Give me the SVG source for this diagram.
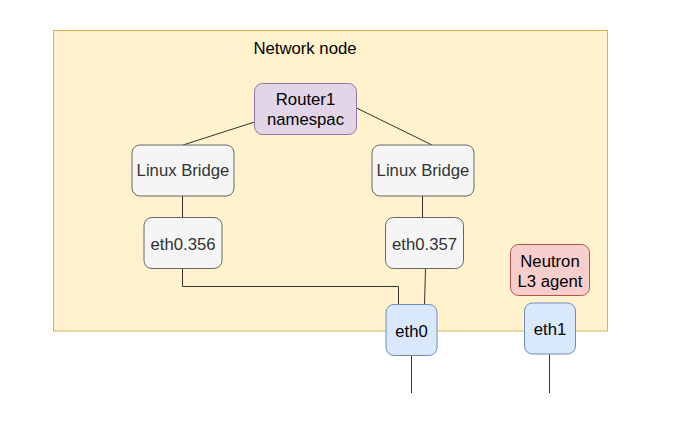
<svg xmlns="http://www.w3.org/2000/svg" width="679" height="423" viewBox="0 0 679 423">
<style>
text{font-family:"Liberation Sans",Arial,sans-serif;font-size:16.7px;text-anchor:middle}
.g rect{fill:#f5f5f5;stroke:#666666}
.g text{fill:#333333}
.b rect{fill:#dae8fc;stroke:#6c8ebf}
.p rect{fill:#e1d5e7;stroke:#9673a6}
.r rect{fill:#f8cecc;stroke:#b85450}
.c path{fill:none;stroke:#333333;stroke-width:1}
</style>
<rect width="679" height="423" fill="#ffffff"/>
<g id="network-node">
<rect x="53.5" y="30.5" width="554" height="300.5" fill="#fff2cc" stroke="#d6b656"/>
<text x="305" y="54">Network node</text>
</g>
<g class="c" id="connectors">
<path d="M254.5 122 L183 145"/>
<path d="M356.5 108 L432 145"/>
<path d="M182.5 196 V217"/>
<path d="M422.5 196 V217"/>
<path d="M182.5 268 V286.5 H398.5 V304"/>
<path d="M425.5 268 L424.5 304"/>
<path d="M411.5 355 V393"/>
<path d="M549.5 354 V393" stroke="#555555"/>
</g>
<g id="router1" class="p">
<rect x="254.5" y="83.5" width="102" height="51" rx="8"/>
<text x="305.5" y="105">Router1</text>
<text x="305.5" y="124.5">namespac</text>
</g>
<g id="bridge-left" class="g">
<rect x="132" y="145" width="102" height="51" rx="8"/>
<text x="183" y="176">Linux Bridge</text>
</g>
<g id="bridge-right" class="g">
<rect x="372" y="145" width="102" height="51" rx="8"/>
<text x="423" y="176">Linux Bridge</text>
</g>
<g id="eth0-356" class="g">
<rect x="144" y="217.5" width="78" height="51" rx="8"/>
<text x="183" y="249.5">eth0.356</text>
</g>
<g id="eth0-357" class="g">
<rect x="385.5" y="217.5" width="78" height="51" rx="8"/>
<text x="424.5" y="249.5">eth0.357</text>
</g>
<g id="neutron" class="r">
<rect x="510.5" y="244.5" width="79" height="51" rx="8"/>
<text x="550" y="267.3">Neutron</text>
<text x="550" y="287.3">L3 agent</text>
</g>
<g id="eth0" class="b">
<rect x="386" y="304.5" width="51" height="51" rx="8"/>
<text x="411.5" y="336.5">eth0</text>
</g>
<g id="eth1" class="b">
<rect x="524.5" y="303" width="51" height="51" rx="8"/>
<text x="550" y="334.5">eth1</text>
</g>
</svg>
